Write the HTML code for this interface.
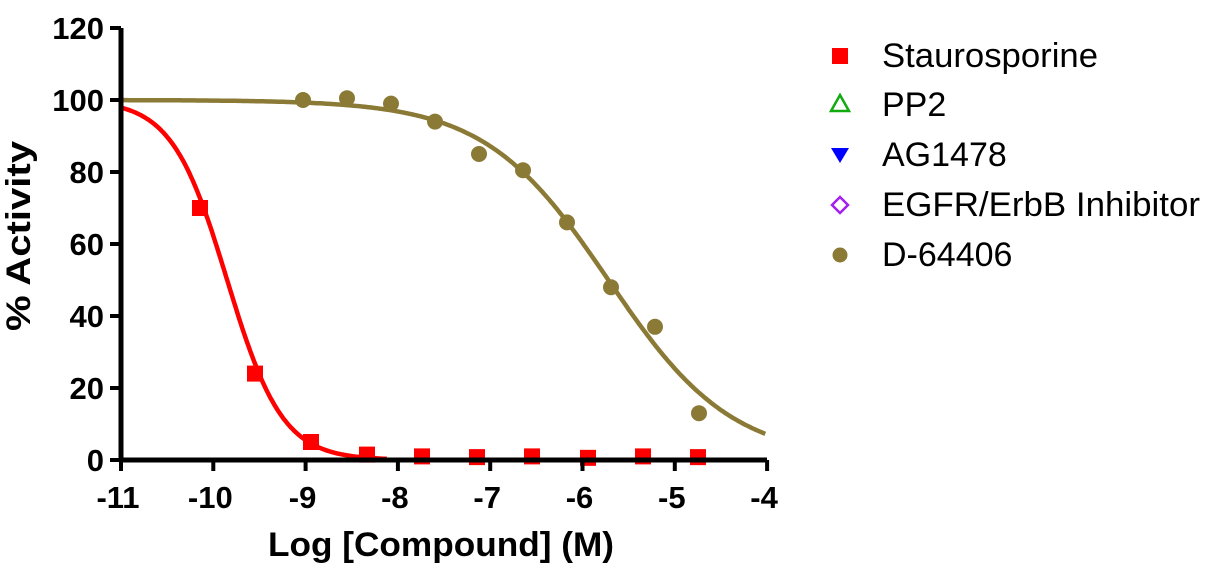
<!DOCTYPE html>
<html><head><meta charset="utf-8"><style>
html,body{margin:0;padding:0;background:#fff;}
svg{display:block;font-family:"Liberation Sans",Arial,sans-serif;}
</style></head><body>
<svg id="s" width="1210" height="576" viewBox="0 0 1210 576" xmlns="http://www.w3.org/2000/svg">
<g id="curves"></g>
<g id="pts"></g>
<g stroke="#000" stroke-width="5" fill="none">
<line x1="121" y1="28" x2="121" y2="462"/>
<line x1="119" y1="460" x2="767" y2="460"/>
</g>
<g id="ticks" stroke="#000" stroke-width="4"></g>
<g font-weight="bold" font-size="31" text-anchor="end" id="ylab"></g>
<g font-weight="bold" font-size="31" text-anchor="middle" id="xlab"></g>
<text x="441" y="556" font-size="34" font-weight="bold" text-anchor="middle" textLength="346" lengthAdjust="spacingAndGlyphs">Log [Compound] (M)</text>
<text transform="translate(30,236) rotate(-90)" font-size="34" font-weight="bold" text-anchor="middle" textLength="190" lengthAdjust="spacingAndGlyphs">% Activity</text>
<g font-size="34">
<rect x="832" y="48" width="16" height="16" fill="#f00"/>
<text x="882" y="67" textLength="216" lengthAdjust="spacingAndGlyphs">Staurosporine</text>
<polygon points="840,95 849,111 831,111" fill="none" stroke="#1a1" stroke-width="2.5"/>
<text x="882" y="116">PP2</text>
<polygon points="831,148 849,148 840,163" fill="#00f"/>
<text x="882" y="166">AG1478</text>
<polygon points="840,197 848,205 840,213 832,205" fill="none" stroke="#a020f0" stroke-width="2.5"/>
<text x="882" y="216" textLength="318" lengthAdjust="spacingAndGlyphs">EGFR/ErbB Inhibitor</text>
<circle cx="840" cy="255" r="7.5" fill="#8b7a36"/>
<text x="882" y="266">D-64406</text>
</g>
</svg>
<script>
var X=function(v){return 121+(v+11)*92.3;},Y=function(v){return 460-v*3.6;};
var ns="http://www.w3.org/2000/svg";
function el(p,t,a){var e=document.createElementNS(ns,t);for(var k in a)e.setAttribute(k,a[k]);document.getElementById(p).appendChild(e);return e;}
for(var i=-11;i<=-4;i++){el("ticks","line",{x1:X(i),y1:460,x2:X(i),y2:471});var t=el("xlab","text",{x:X(i)-3,y:508});t.textContent=i;}
for(var j=0;j<=120;j+=20){el("ticks","line",{x1:110,y1:Y(j),x2:121,y2:Y(j)});var t=el("ylab","text",{x:104,y:Y(j)+11});t.textContent=j;}
function curve(c,h,col,x0){var d="";for(var x=x0;x<=-4.0001+1e-9;x+=0.02){var y=100/(1+Math.pow(10,h*(x-c)));if(y<0.3&&col=="#f00")break;d+=(d?"L":"M")+X(x).toFixed(1)+","+Y(y).toFixed(1);}el("curves","path",{d:d,fill:"none",stroke:col,"stroke-width":4.5});}
curve(-9.85,1.45,"#f00",-11);
curve(-5.72,0.65,"#8b7a36",-11);
var sx=[200,255,311,367,422,477,532,588,643,698],sy=[70,24,5,1.5,1,0.8,1,0.6,1,0.8];
for(var k=0;k<10;k++)el("pts","rect",{x:sx[k]-8,y:Y(sy[k])-8,width:16,height:16,fill:"#f00"});
var dx=[303,347,391,435,479,523,567,611,655,699],dy=[100,100.5,99,94,85,80.5,66,48,37,13];
for(var k=0;k<10;k++)el("pts","circle",{cx:dx[k],cy:Y(dy[k]),r:8,fill:"#8b7a36"});
</script>
</body></html>
